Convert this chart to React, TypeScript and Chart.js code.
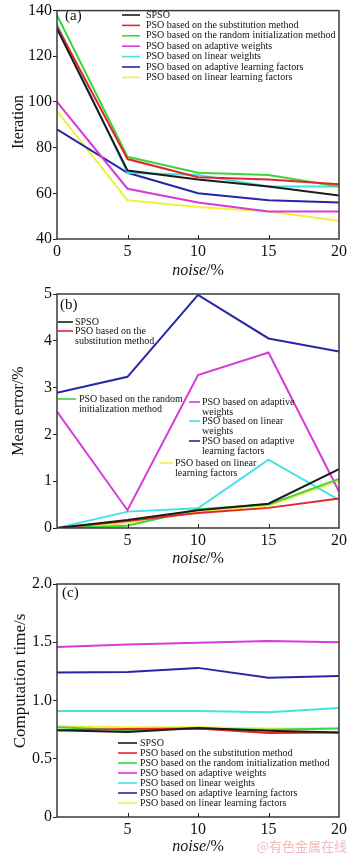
import React, { useEffect, useRef } from "react";
import { Chart, registerables } from "chart.js";

Chart.register(...registerables);

// ---------- data ----------
const noise = [0, 5, 10, 15, 20];

const seriesNames = [
  "SPSO",
  "PSO based on the substitution method",
  "PSO based on the random initialization method",
  "PSO based on adaptive weights",
  "PSO based on linear weights",
  "PSO based on adaptive learning factors",
  "PSO based on linear learning factors",
];

const seriesColors = ["#1c1c1c", "#e3262b", "#3fd43f", "#d83ad8", "#44e2e2", "#2626a6", "#f0f040"];

// (a) Iteration
const iterSPSO = [132, 70, 66, 63, 59];
const iterSubstitution = [133, 75, 67, 66, 64];
const iterRandomInit = [138, 76, 69, 68, 63];
const iterAdaptiveW = [100, 62, 56, 52, 52];
const iterLinearW = [134, 69, 68, 63, 63];
const iterAdaptiveLF = [88, 69, 60, 57, 56];
const iterLinearLF = [96, 57, 54, 52, 48];

// (b) Mean error /%
const errSPSO = [0, 0.17, 0.38, 0.52, 1.26];
const errSubstitution = [0, 0.15, 0.32, 0.43, 0.63];
const errRandomInit = [0, 0.05, 0.4, 0.5, 1.05];
const errAdaptiveW = [2.49, 0.38, 3.27, 3.75, 0.78];
const errLinearW = [0, 0.35, 0.42, 1.46, 0.6];
const errAdaptiveLF = [2.89, 3.23, 4.98, 4.05, 3.77];
const errLinearLF = [0, 0.1, 0.34, 0.48, 1.0];

// (c) Computation time /s
const timeSPSO = [0.745, 0.73, 0.765, 0.74, 0.725];
const timeSubstitution = [0.745, 0.755, 0.76, 0.72, 0.725];
const timeRandomInit = [0.77, 0.745, 0.76, 0.75, 0.76];
const timeAdaptiveW = [1.46, 1.48, 1.495, 1.51, 1.5];
const timeLinearW = [0.91, 0.91, 0.91, 0.9, 0.935];
const timeAdaptiveLF = [1.24, 1.245, 1.28, 1.195, 1.21];
const timeLinearLF = [0.78, 0.77, 0.77, 0.76, 0.76];

// tick settings
const iterTicks = { min: 40, max: 140, step: 20 };
const errTicks = { min: 0, max: 5, step: 1 };
const timeTicks = { min: 0, max: 2, step: 0.5 };

// wrapped legend labels for panel (b)
const legendBLines = [
  ["SPSO"],
  ["PSO based on the", "substitution method"],
  ["PSO based on the random", "initialization method"],
  ["PSO based on adaptive", "weights"],
  ["PSO based on linear", "weights"],
  ["PSO based on adaptive", "learning factors"],
  ["PSO based on linear", "learning factors"],
];

const SERIF = '"Liberation Serif", "Times New Roman", serif';

type LegendItem = { x1: number; x2: number; y: number; tx: number; lines: string[] };

type PanelCfg = {
  top: number;
  height: number;
  chartTop: number;
  chartBottom: number;
  series: number[][];
  yMin: number;
  yMax: number;
  yStep: number;
  yFmt: (v: number) => string;
  showZeroX: boolean;
  letter: string;
  letterPos: [number, number];
  yTitle: string;
  yTitleX: number;
  yTitleY: number;
  yTitleSize: number;
  xTitleY: number;
  legend: LegendItem[];
  watermark?: boolean;
};

function listLegend(x1: number, x2: number, tx: number, y0: number, dy: number): LegendItem[] {
  return seriesNames.map((n, i) => ({ x1, x2, y: y0 + i * dy, tx, lines: [n] }));
}

const panelA: PanelCfg = {
  top: 0,
  height: 282,
  chartTop: 5,
  chartBottom: 239,
  series: [iterSPSO, iterSubstitution, iterRandomInit, iterAdaptiveW, iterLinearW, iterAdaptiveLF, iterLinearLF],
  yMin: iterTicks.min,
  yMax: iterTicks.max,
  yStep: iterTicks.step,
  yFmt: (v) => String(v),
  showZeroX: true,
  letter: "(a)",
  letterPos: [65, 16],
  yTitle: "Iteration",
  yTitleX: 19,
  yTitleY: 122,
  yTitleSize: 16,
  xTitleY: 271,
  legend: listLegend(122, 140, 146, 15, 10.4),
};

const bOff = 282;
const panelB: PanelCfg = {
  top: bOff,
  height: 283,
  chartTop: 294 - bOff,
  chartBottom: 528 - bOff,
  series: [errSPSO, errSubstitution, errRandomInit, errAdaptiveW, errLinearW, errAdaptiveLF, errLinearLF],
  yMin: errTicks.min,
  yMax: errTicks.max,
  yStep: errTicks.step,
  yFmt: (v) => String(v),
  showZeroX: false,
  letter: "(b)",
  letterPos: [60, 305 - bOff],
  yTitle: "Mean error/%",
  yTitleX: 19,
  yTitleY: 411 - bOff,
  yTitleSize: 16,
  xTitleY: 559 - bOff,
  legend: [
    { x1: 58, x2: 73, y: 322 - bOff, tx: 75, lines: legendBLines[0] },
    { x1: 58, x2: 73, y: 331 - bOff, tx: 75, lines: legendBLines[1] },
    { x1: 58, x2: 76, y: 399 - bOff, tx: 79, lines: legendBLines[2] },
    { x1: 189, x2: 200, y: 402 - bOff, tx: 202, lines: legendBLines[3] },
    { x1: 189, x2: 200, y: 421 - bOff, tx: 202, lines: legendBLines[4] },
    { x1: 189, x2: 200, y: 441 - bOff, tx: 202, lines: legendBLines[5] },
    { x1: 160, x2: 173, y: 463 - bOff, tx: 175, lines: legendBLines[6] },
  ],
};

const cOff = 565;
const panelC: PanelCfg = {
  top: cOff,
  height: 288,
  chartTop: 584 - cOff,
  chartBottom: 817 - cOff,
  series: [timeSPSO, timeSubstitution, timeRandomInit, timeAdaptiveW, timeLinearW, timeAdaptiveLF, timeLinearLF],
  yMin: timeTicks.min,
  yMax: timeTicks.max,
  yStep: timeTicks.step,
  yFmt: (v) => (v === 0 ? "0" : v.toFixed(1)),
  showZeroX: false,
  letter: "(c)",
  letterPos: [62, 593 - cOff],
  yTitle: "Computation time/s",
  yTitleX: 21,
  yTitleY: 681 - cOff,
  yTitleSize: 17,
  xTitleY: 847 - cOff,
  legend: listLegend(118, 137, 140, 743 - cOff, 10),
  watermark: true,
};

function Panel({ cfg }: { cfg: PanelCfg }) {
  const ref = useRef<HTMLCanvasElement | null>(null);

  useEffect(() => {
    const canvas = ref.current;
    if (!canvas) return;

    const decor = {
      id: "decor",
      afterDraw(chart: any) {
        const ctx = chart.ctx as CanvasRenderingContext2D;
        const a = chart.chartArea;
        const xs = chart.scales.x;
        ctx.save();
        // frame
        ctx.strokeStyle = "#3a3a3a";
        ctx.lineWidth = 1.5;
        ctx.strokeRect(a.left, a.top, a.right - a.left, a.bottom - a.top);
        // inward x ticks
        ctx.lineWidth = 1;
        ctx.strokeStyle = "#222";
        xs.ticks.forEach((t: any) => {
          if (t.value === xs.min || t.value === xs.max) return;
          const px = Math.round(xs.getPixelForValue(t.value)) + 0.5;
          ctx.beginPath();
          ctx.moveTo(px, a.bottom);
          ctx.lineTo(px, a.bottom - 4);
          ctx.stroke();
        });
        // panel letter
        ctx.fillStyle = "#111";
        ctx.font = `15px ${SERIF}`;
        ctx.textBaseline = "middle";
        ctx.textAlign = "left";
        ctx.fillText(cfg.letter, cfg.letterPos[0], cfg.letterPos[1]);
        // x title: italic "noise" + "/%"
        const italic = `italic 16px ${SERIF}`;
        const normal = `16px ${SERIF}`;
        ctx.font = italic;
        const w1 = ctx.measureText("noise").width;
        ctx.font = normal;
        const w2 = ctx.measureText("/%").width;
        const cx = (a.left + a.right) / 2;
        const sx = cx - (w1 + w2) / 2;
        ctx.font = italic;
        ctx.fillText("noise", sx, cfg.xTitleY);
        ctx.font = normal;
        ctx.fillText("/%", sx + w1, cfg.xTitleY);
        // y title
        ctx.save();
        ctx.translate(cfg.yTitleX, cfg.yTitleY);
        ctx.rotate(-Math.PI / 2);
        ctx.textAlign = "center";
        ctx.font = `${cfg.yTitleSize}px ${SERIF}`;
        ctx.fillText(cfg.yTitle, 0, 0);
        ctx.restore();
        // legend
        ctx.font = `10px ${SERIF}`;
        ctx.textAlign = "left";
        cfg.legend.forEach((it, i) => {
          ctx.strokeStyle = seriesColors[i];
          ctx.lineWidth = 1.6;
          ctx.beginPath();
          ctx.moveTo(it.x1, it.y);
          ctx.lineTo(it.x2, it.y);
          ctx.stroke();
          ctx.fillStyle = "#111";
          it.lines.forEach((ln, j) => ctx.fillText(ln, it.tx, it.y + j * 10.5));
        });
        if (cfg.watermark) {
          ctx.fillStyle = "#f1b9b9";
          ctx.font = '13px "Noto Sans CJK SC", sans-serif';
          ctx.textAlign = "right";
          ctx.fillText("@有色金属在线", 347, 846 - cfg.top);
        }
        ctx.restore();
      },
    };

    const chart = new Chart(canvas, {
      type: "line",
      data: {
        datasets: cfg.series.map((vals, i) => ({
          label: seriesNames[i],
          data: noise.map((x, k) => ({ x, y: vals[k] })),
          borderColor: seriesColors[i],
          backgroundColor: seriesColors[i],
          borderWidth: 2,
          pointRadius: 0,
          tension: 0,
          fill: false,
        })),
      },
      options: {
        responsive: false,
        animation: false,
        devicePixelRatio: 1,
        layout: { padding: { top: cfg.chartTop, left: 0, right: 7, bottom: 0 } },
        plugins: { legend: { display: false }, tooltip: { enabled: false }, title: { display: false } },
        scales: {
          x: {
            type: "linear",
            min: 0,
            max: 20,
            grid: { display: false, drawTicks: false },
            border: { display: false },
            ticks: {
              stepSize: 5,
              padding: 3,
              color: "#111",
              font: { family: SERIF, size: 16 },
              maxRotation: 0,
              autoSkip: false,
              callback: (v: any) => (v === 0 && !cfg.showZeroX ? "" : String(v)),
            },
            afterFit: (s: any) => {
              s.height = cfg.height - cfg.chartBottom;
            },
          },
          y: {
            type: "linear",
            min: cfg.yMin,
            max: cfg.yMax,
            grid: { display: true, drawOnChartArea: false, drawTicks: true, tickLength: 4, tickColor: "#222" },
            border: { display: false },
            ticks: {
              stepSize: cfg.yStep,
              padding: 1,
              color: "#111",
              font: { family: SERIF, size: 16 },
              callback: (v: any) => cfg.yFmt(Number(v)),
            },
            afterFit: (s: any) => {
              s.width = 57;
            },
          },
        },
      },
      plugins: [decor],
    } as any);

    return () => chart.destroy();
  }, [cfg]);

  return (
    <canvas
      ref={ref}
      width={350}
      height={cfg.height}
      style={{ position: "absolute", left: 0, top: cfg.top, width: 350, height: cfg.height, display: "block" }}
    />
  );
}

export default function App() {
  return (
    <div style={{ position: "absolute", left: 0, top: 0, width: 350, height: 853, background: "#fff", overflow: "hidden" }}>
      <Panel cfg={panelA} />
      <Panel cfg={panelB} />
      <Panel cfg={panelC} />
    </div>
  );
}
